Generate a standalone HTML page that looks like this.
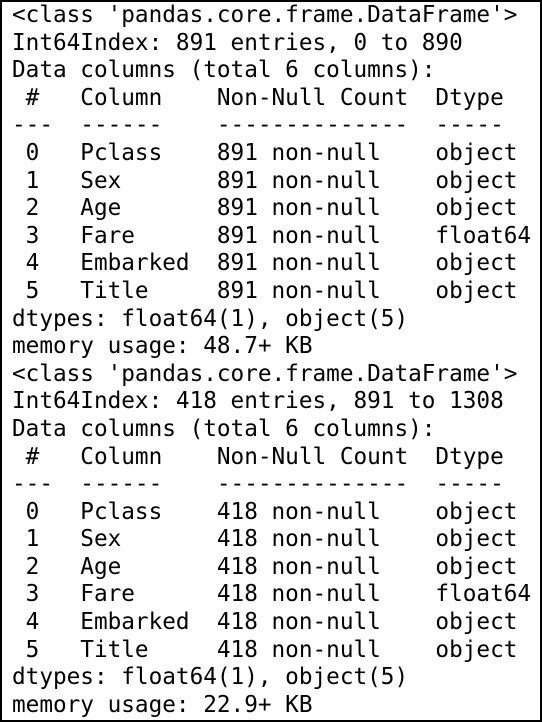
<!DOCTYPE html>
<html><head><style>
html,body{margin:0;padding:0;background:#fff;}
.box{position:absolute;left:0;top:0;width:538px;height:718px;border:2px solid #000;overflow:hidden;}
pre{margin:0;position:absolute;left:10px;top:0px;font-family:"DejaVu Sans Mono","Liberation Mono",monospace;font-size:22.7px;line-height:27.6px;color:#000;}
</style></head><body><div class="box"><pre>&lt;class 'pandas.core.frame.DataFrame'&gt;
Int64Index: 891 entries, 0 to 890
Data columns (total 6 columns):
 #   Column    Non-Null Count  Dtype  
---  ------    --------------  -----  
 0   Pclass    891 non-null    object 
 1   Sex       891 non-null    object 
 2   Age       891 non-null    object 
 3   Fare      891 non-null    float64
 4   Embarked  891 non-null    object 
 5   Title     891 non-null    object 
dtypes: float64(1), object(5)
memory usage: 48.7+ KB
&lt;class 'pandas.core.frame.DataFrame'&gt;
Int64Index: 418 entries, 891 to 1308
Data columns (total 6 columns):
 #   Column    Non-Null Count  Dtype  
---  ------    --------------  -----  
 0   Pclass    418 non-null    object 
 1   Sex       418 non-null    object 
 2   Age       418 non-null    object 
 3   Fare      418 non-null    float64
 4   Embarked  418 non-null    object 
 5   Title     418 non-null    object 
dtypes: float64(1), object(5)
memory usage: 22.9+ KB</pre></div></body></html>
